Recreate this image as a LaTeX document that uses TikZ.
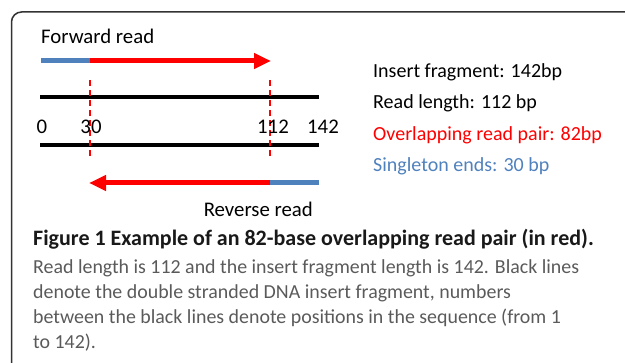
\documentclass[tikz,border=0pt]{standalone}
\usepackage{fontspec}
\setmainfont{Carlito}
\usetikzlibrary{arrows.meta}
\definecolor{rd}{RGB}{255,0,0}
\definecolor{bl}{RGB}{79,129,189}
\definecolor{capgray}{RGB}{90,90,90}
\tikzset{
  lbl/.style={inner sep=0pt, font=\fontsize{20.8}{23}\selectfont},
  info/.style={inner sep=0pt, anchor=west, font=\fontsize{20}{22}\selectfont},
  captxt/.style={inner sep=0pt, anchor=base west, text=capgray, font=\fontsize{19.9}{22}\selectfont},
  strand/.style={line width=3.5pt, black},
  redread/.style={line width=5pt, rd},
  blueread/.style={line width=5pt, bl},
  readtip/.style={-{Triangle[length=17pt,width=15pt]}},
  guide/.style={rd, line width=1.5pt, dash pattern=on 6pt off 4pt},
  framebox/.style={line width=1.5pt, draw=black!80, rounded corners=10pt}
}
\begin{document}
\begin{tikzpicture}[x=1pt,y=-1pt]
\useasboundingbox (0,0) rectangle (625,363);
% frame
\draw[framebox] (11.5,364) -- (11.5,12) -- (627,12);
% coordinates
\coordinate (fs) at (41,61);
\coordinate (fm) at (90,61);
\coordinate (fe) at (271,61);
\coordinate (rs) at (319,183);
\coordinate (rm) at (270,183);
\coordinate (re) at (89,183);
\coordinate (t1) at (40,97);
\coordinate (t2) at (319,97);
\coordinate (b1) at (40,145);
\coordinate (b2) at (319,145);
\coordinate (d1a) at (90,80);
\coordinate (d1b) at (90,158);
\coordinate (d2a) at (270,80);
\coordinate (d2b) at (270,158);
% strands
\draw[strand] (t1) -- (t2);
\draw[strand] (b1) -- (b2);
% reads
\draw[blueread] (fs) -- (fm);
\draw[redread, readtip] (fm) -- (fe);
\draw[blueread] (rs) -- (rm);
\draw[redread, readtip] (rm) -- (re);
% guides
\draw[guide] (d1a) -- (d1b);
\draw[guide] (d2a) -- (d2b);
% labels
\node[lbl, anchor=west] (fwd) at (41,36) {Forward read};
\node[lbl, anchor=east] (rev) at (313,209) {Reverse read};
\node[lbl] (n0) at (42,127) {0};
\node[lbl] (n30) at (91,127) {30};
\node[lbl] (n112) at (273,127) {112};
\node[lbl] (n142) at (323,127) {142};
% info
\node[info] (i1) at (373,72) {Insert fragment: 142bp};
\node[info] (i2) at (373,103) {Read length: 112 bp};
\node[info, text=rd] (i3) at (373,135) {Overlapping read pair: 82bp};
\node[info, text=bl] (i4) at (373,166) {Singleton ends: 30 bp};
% caption
\node[captxt, text=black!90, font=\fontsize{22}{24}\selectfont\bfseries] (c0) at (33,246) {Figure 1 Example of an 82-base overlapping read pair (in red).};
\node[captxt] (c1) at (33,274) {Read length is 112 and the insert fragment length is 142. Black lines};
\node[captxt] (c2) at (33,299) {denote the double stranded DNA insert fragment, numbers};
\node[captxt] (c3) at (33,324) {between the black lines denote positions in the sequence (from 1};
\node[captxt] (c4) at (33,349) {to 142).};
\end{tikzpicture}
\end{document}
